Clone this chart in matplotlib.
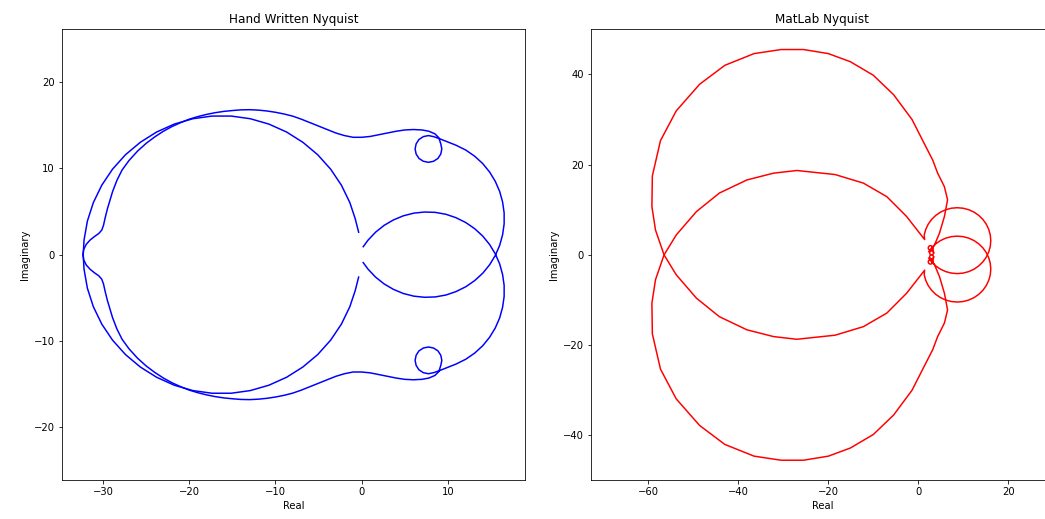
import matplotlib
matplotlib.use("Agg")
import matplotlib.pyplot as plt

# ---------------- Hand written Nyquist (blue) ----------------
# pieces of the main blue path
hw_lens_up_re = [0.18, 0.74, 1.61, 2.60, 3.68, 4.83, 6.05, 7.29, 8.54, 9.77, 10.95, 12.08,
                 13.11, 14.04, 14.84, 15.50]
hw_lens_up_im = [0.92, 1.68, 2.60, 3.39, 4.02, 4.50, 4.81, 4.94, 4.90, 4.68, 4.28, 3.72,
                 3.01, 2.16, 1.18, 0.10]
hw_arc_low_re = [16.01, 16.35, 16.53, 16.53, 16.35, 16.01, 15.50, 14.84, 14.04, 13.11, 12.08,
                 10.95, 9.77]
hw_arc_low_im = [-1.07, -2.30, -3.56, -4.84, -6.10, -7.33, -8.50, -9.58, -10.56, -11.41, -12.12,
                 -12.68, -13.15]
hw_loop_low_re = [9.0, 8.34, 7.75, 7.16, 6.65, 6.32, 6.20, 6.32, 6.65, 7.16, 7.75, 8.34, 8.85,
                  9.18, 9.30, 9.18, 8.95, 8.5, 7.8, 7.0]
hw_loop_low_im = [-13.45, -13.68, -13.80, -13.68, -13.35, -12.84, -12.25, -11.66, -11.15, -10.82,
                  -10.70, -10.82, -11.15, -11.66, -12.25, -12.84, -13.55, -14.0, -14.3, -14.45]
hw_wavy_low_re = [6.0, 5.0, 4.0, 3.0, 2.0, 1.0, 0.0, -1.0, -2.0, -3.0, -4.0, -5.0, -6.0, -7.0,
                  -8.0, -9.0, -10.0, -11.0, -12.0, -13.0, -14.0, -15.0, -16.0, -17.0, -18.0,
                  -19.0, -20.0, -21.0, -22.0, -23.0, -24.0, -25.0, -26.0, -27.0, -27.8, -28.4,
                  -28.9, -29.2, -29.5, -29.75, -29.95, -30.15, -30.5, -31.0, -31.5, -31.95,
                  -32.25, -32.35]
hw_wavy_low_im = [-14.5, -14.45, -14.3, -14.1, -13.9, -13.7, -13.6, -13.6, -13.8, -14.1, -14.5,
                  -14.9, -15.3, -15.7, -16.05, -16.3, -16.5, -16.65, -16.75, -16.8, -16.78,
                  -16.7, -16.6, -16.45, -16.25, -16.0, -15.7, -15.3, -14.85, -14.3, -13.65,
                  -12.9, -12.0, -10.9, -9.8, -8.6, -7.3, -6.3, -5.3, -4.3, -3.4, -2.85, -2.45,
                  -2.1, -1.7, -1.2, -0.6, 0.0]
hw_wavy_up_re = [-32.25, -31.95, -31.5, -31.0, -30.5, -30.15, -29.95, -29.75, -29.5, -29.2,
                 -28.9, -28.4, -27.8, -27.0, -26.0, -25.0, -24.0, -23.0, -22.0, -21.0, -20.0,
                 -19.0, -18.0, -17.0, -16.0, -15.0, -14.0, -13.0, -12.0, -11.0, -10.0, -9.0,
                 -8.0, -7.0, -6.0, -5.0, -4.0, -3.0, -2.0, -1.0, 0.0, 1.0, 2.0, 3.0, 4.0, 5.0,
                 6.0]
hw_wavy_up_im = [0.6, 1.2, 1.7, 2.1, 2.45, 2.85, 3.4, 4.3, 5.3, 6.3, 7.3, 8.6, 9.8, 10.9, 12.0,
                 12.9, 13.65, 14.3, 14.85, 15.3, 15.7, 16.0, 16.25, 16.45, 16.6, 16.7, 16.78,
                 16.8, 16.75, 16.65, 16.5, 16.3, 16.05, 15.7, 15.3, 14.9, 14.5, 14.1, 13.8,
                 13.6, 13.6, 13.7, 13.9, 14.1, 14.3, 14.45, 14.5]
hw_loop_up_re = [7.0, 7.8, 8.5, 8.95, 9.18, 9.30, 9.18, 8.85, 8.34, 7.75, 7.16, 6.65, 6.32,
                 6.20, 6.32, 6.65, 7.16, 7.75, 8.34, 9.0]
hw_loop_up_im = [14.45, 14.3, 14.0, 13.55, 12.84, 12.25, 11.66, 11.15, 10.82, 10.70, 10.82,
                 11.15, 11.66, 12.25, 12.84, 13.35, 13.68, 13.80, 13.68, 13.45]
hw_arc_up_re = [9.77, 10.95, 12.08, 13.11, 14.04, 14.84, 15.50, 16.01, 16.35, 16.53, 16.53,
                16.35, 16.01]
hw_arc_up_im = [13.15, 12.68, 12.12, 11.41, 10.56, 9.58, 8.50, 7.33, 6.10, 4.84, 3.56, 2.30,
                1.07]
hw_lens_low_re = [15.50, 14.84, 14.04, 13.11, 12.08, 10.95, 9.77, 8.54, 7.29, 6.05, 4.83, 3.68,
                  2.60, 1.61, 0.74, 0.18]
hw_lens_low_im = [-0.10, -1.18, -2.16, -3.01, -3.72, -4.28, -4.68, -4.90, -4.94, -4.81, -4.50,
                  -4.02, -3.39, -2.60, -1.68, -0.92]

# big left circle
hw_circle_re = [-0.35, -0.75, -1.37, -2.35, -3.60, -5.10, -6.82, -8.71, -10.76, -12.91, -15.13,
                -17.37, -19.59, -21.74, -23.79, -25.68, -27.40, -28.90, -30.15, -31.13, -31.82,
                -32.21, -32.30, -32.21, -31.82, -31.13, -30.15, -28.90, -27.40, -25.68, -23.79,
                -21.74, -19.59, -17.37, -15.13, -12.91, -10.76, -8.71, -6.82, -5.10, -3.60,
                -2.35, -1.37, -0.75, -0.35]
hw_circle_im = [2.6, 4.17, 6.03, 8.05, 9.91, 11.58, 13.02, 14.21, 15.13, 15.75, 16.06, 16.06,
                15.75, 15.13, 14.21, 13.02, 11.58, 9.91, 8.05, 6.03, 3.89, 1.68, 0.0, -1.68,
                -3.89, -6.03, -8.05, -9.91, -11.58, -13.02, -14.21, -15.13, -15.75, -16.06,
                -16.06, -15.75, -15.13, -14.21, -13.02, -11.58, -9.91, -8.05, -6.03, -4.17, -2.6]

# ---------------- MatLab Nyquist (red) ----------------
ml_loops_up_re = [3.4, 3.33, 3.17, 2.95, 2.73, 2.57, 2.5, 2.57, 2.73, 2.95, 3.17, 3.33, 3.4,
                  3.2, 3.13, 2.95, 2.7, 2.45, 2.27, 2.2, 2.27, 2.45, 2.7, 2.95, 3.13, 3.2]
ml_loops_up_im = [0.45, 0.68, 0.84, 0.9, 0.84, 0.68, 0.45, 0.22, 0.06, 0.0, 0.06, 0.22, 0.45,
                  1.55, 1.8, 1.98, 2.05, 1.98, 1.8, 1.55, 1.3, 1.12, 1.05, 1.12, 1.3, 1.55]
ml_outer_up_re = [3.6, 4.7, 5.8, 6.5, 5.8, 4.3, 3.2, 1.3, -1.4, -5.5, -10.0, -15.1, -20.0,
                  -25.5, -30.5, -36.5, -43.0, -48.6, -53.8, -57.3, -59.1, -59.2, -58.4, -56.5]
ml_outer_up_im = [2.2, 4.8, 8.5, 12.2, 15.1, 18.1, 21.0, 24.7, 30.0, 35.5, 39.8, 42.8, 44.6,
                  45.5, 45.5, 44.6, 42.0, 37.8, 31.9, 25.3, 17.5, 10.7, 5.5, 0.0]
ml_heart_low_re = [-53.8, -49.3, -44.2, -38.1, -32.2, -27.0, -18.5, -12.2, -7.0, -2.6, 1.4]
ml_heart_low_im = [-4.4, -9.6, -13.7, -16.6, -18.1, -18.7, -17.8, -15.9, -12.9, -8.5, -3.4]
ml_circ_low_re = [1.31, 1.65, 2.20, 2.94, 3.86, 4.93, 6.10, 7.36, 8.65, 9.94, 11.20, 12.38,
                  13.44, 14.36, 15.10, 15.65, 15.99, 16.10, 15.99, 15.65, 15.10, 14.36, 13.44,
                  12.38, 11.20, 9.94, 8.65, 7.36, 6.10, 4.93, 3.86, 2.94, 2.33]
ml_circ_low_im = [-4.42, -5.65, -6.80, -7.84, -8.74, -9.47, -10.01, -10.34, -10.45, -10.34,
                  -10.01, -9.47, -8.74, -7.84, -6.80, -5.65, -4.42, -3.15, -1.88, -0.65, 0.50,
                  1.54, 2.44, 3.17, 3.71, 4.04, 4.15, 4.04, 3.71, 3.17, 2.44, 1.54, 0.72]

ml_loops_low_re = [3.4, 3.33, 3.17, 2.95, 2.73, 2.57, 2.5, 2.57, 2.73, 2.95, 3.17, 3.33, 3.4,
                   3.2, 3.13, 2.95, 2.7, 2.45, 2.27, 2.2, 2.27, 2.45, 2.7, 2.95, 3.13, 3.2]
ml_loops_low_im = [-0.45, -0.68, -0.84, -0.9, -0.84, -0.68, -0.45, -0.22, -0.06, 0.0, -0.06,
                   -0.22, -0.45, -1.55, -1.8, -1.98, -2.05, -1.98, -1.8, -1.55, -1.3, -1.12,
                   -1.05, -1.12, -1.3, -1.55]
ml_outer_low_re = [3.6, 4.7, 5.8, 6.5, 5.8, 4.3, 3.2, 1.3, -1.4, -5.5, -10.0, -15.1, -20.0,
                   -25.5, -30.5, -36.5, -43.0, -48.6, -53.8, -57.3, -59.1, -59.2, -58.4, -56.5]
ml_outer_low_im = [-2.2, -4.8, -8.5, -12.2, -15.1, -18.1, -21.0, -24.7, -30.0, -35.5, -39.8,
                   -42.8, -44.6, -45.5, -45.5, -44.6, -42.0, -37.8, -31.9, -25.3, -17.5, -10.7,
                   -5.5, 0.0]
ml_heart_up_re = [-53.8, -49.3, -44.2, -38.1, -32.2, -27.0, -18.5, -12.2, -7.0, -2.6, 1.4]
ml_heart_up_im = [4.4, 9.6, 13.7, 16.6, 18.1, 18.7, 17.8, 15.9, 12.9, 8.5, 3.4]
ml_circ_up_re = [1.31, 1.65, 2.20, 2.94, 3.86, 4.93, 6.10, 7.36, 8.65, 9.94, 11.20, 12.38,
                 13.44, 14.36, 15.10, 15.65, 15.99, 16.10, 15.99, 15.65, 15.10, 14.36, 13.44,
                 12.38, 11.20, 9.94, 8.65, 7.36, 6.10, 4.93, 3.86, 2.94, 2.33]
ml_circ_up_im = [4.42, 5.65, 6.80, 7.84, 8.74, 9.47, 10.01, 10.34, 10.45, 10.34, 10.01, 9.47,
                 8.74, 7.84, 6.80, 5.65, 4.42, 3.15, 1.88, 0.65, -0.50, -1.54, -2.44, -3.17,
                 -3.71, -4.04, -4.15, -4.04, -3.71, -3.17, -2.44, -1.54, -0.72]

hw_main_re = (hw_lens_up_re + hw_arc_low_re + hw_loop_low_re + hw_wavy_low_re
              + hw_wavy_up_re + hw_loop_up_re + hw_arc_up_re + hw_lens_low_re)
hw_main_im = (hw_lens_up_im + hw_arc_low_im + hw_loop_low_im + hw_wavy_low_im
              + hw_wavy_up_im + hw_loop_up_im + hw_arc_up_im + hw_lens_low_im)
ml_a_re = ml_loops_up_re + ml_outer_up_re + ml_heart_low_re + ml_circ_low_re
ml_a_im = ml_loops_up_im + ml_outer_up_im + ml_heart_low_im + ml_circ_low_im
ml_b_re = ml_loops_low_re + ml_outer_low_re + ml_heart_up_re + ml_circ_up_re
ml_b_im = ml_loops_low_im + ml_outer_low_im + ml_heart_up_im + ml_circ_up_im

W, H, DPI = 1045, 519, 72
fig = plt.figure(figsize=(W / DPI, H / DPI), dpi=DPI)

ax1 = fig.add_axes([61.7 / W, (H - 480.3) / H, 463.3 / W, 451.3 / H])
ax1.plot(hw_main_re, hw_main_im, color='blue', lw=1.5)
ax1.plot(hw_circle_re, hw_circle_im, color='blue', lw=1.5)
ax1.set_xlim(-34.8, 18.95)
ax1.set_ylim(-26.15, 26.15)
ax1.set_xticks([-30, -20, -10, 0, 10])
ax1.set_yticks([-20, -10, 0, 10, 20])
ax1.set_title("Hand Written Nyquist")
ax1.set_xlabel("Real")
ax1.set_ylabel("Imaginary")

ax2 = fig.add_axes([590.7 / W, (H - 480.3) / H, 463.3 / W, 451.3 / H])
ax2.plot(ml_a_re, ml_a_im, color='red', lw=1.5)
ax2.plot(ml_b_re, ml_b_im, color='red', lw=1.5)
ax2.set_xlim(-72.8, 30.15)
ax2.set_ylim(-49.95, 50.05)
ax2.set_xticks([-60, -40, -20, 0, 20])
ax2.set_yticks([-40, -20, 0, 20, 40])
ax2.set_title("MatLab Nyquist")
ax2.set_xlabel("Real")
ax2.set_ylabel("Imaginary")

fig.savefig("out.png", dpi=DPI)
